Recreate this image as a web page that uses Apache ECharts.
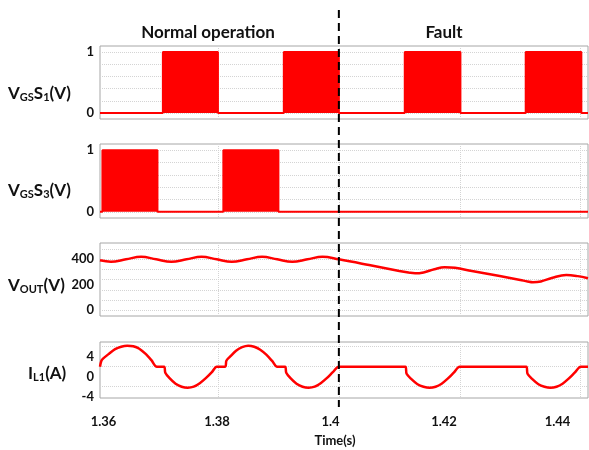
<!DOCTYPE html>
<html>
<head>
<meta charset="utf-8">
<script src="https://cdn.jsdelivr.net/npm/echarts@6/dist/echarts.min.js"></script>
<style>
html, body { margin: 0; padding: 0; background: #fff; }
#main { width: 589px; height: 450px; }
</style>
</head>
<body>
<div id="main"></div>
<script>
// time axis
var tMin = 1.3605, tMax = 1.4412, tFault = 1.4;
var timeTicks = [1.36, 1.38, 1.4, 1.42, 1.44];
var timeGrid = [1.38, 1.4, 1.42, 1.44];

// gate pulses (on / off edges, s)
var s1On = [1.3709, 1.3909, 1.4109, 1.4309];
var s1Off = [1.3800, 1.4000, 1.4201, 1.4401];
var s3On = [1.3609, 1.3809];
var s3Off = [1.3700, 1.3900];

// output voltage
var vTime = [1.3605, 1.3623, 1.3648, 1.3673, 1.3698, 1.3723, 1.3748, 1.3773, 1.3798, 1.3823,
  1.3848, 1.3873, 1.3898, 1.3923, 1.3948, 1.3973, 1.4000, 1.4050, 1.4100, 1.4115, 1.4126,
  1.4140, 1.4158, 1.4175, 1.4192, 1.4220, 1.4266, 1.4300, 1.4312, 1.4321, 1.4334, 1.4352,
  1.4376, 1.4395, 1.4412];
var vOut = [392, 381, 400, 420, 400, 381, 400, 420, 400, 381,
  400, 420, 400, 381, 400, 420, 400, 355, 308, 296, 290,
  297, 322, 337, 333, 308, 269, 238, 226, 220, 226, 253,
  277, 268, 251];

// inductor current
var iTime = [1.3605, 1.3607, 1.3610, 1.3620, 1.3630, 1.3640, 1.3650, 1.3660, 1.3670, 1.3680, 1.3690, 1.3699,
  1.3711, 1.3713, 1.3720, 1.3730, 1.3740, 1.3750, 1.3760, 1.3770, 1.3780, 1.3790, 1.3798,
  1.3812, 1.3814, 1.3820, 1.3830, 1.3840, 1.3850, 1.3860, 1.3870, 1.3880, 1.3890, 1.3898,
  1.3911, 1.3913, 1.3920, 1.3930, 1.3940, 1.3950, 1.3960, 1.3970, 1.3980, 1.3990, 1.4000,
  1.4110, 1.4112, 1.4120, 1.4130, 1.4140, 1.4150, 1.4160, 1.4170, 1.4180, 1.4190, 1.4200,
  1.4310, 1.4312, 1.4320, 1.4330, 1.4340, 1.4350, 1.4360, 1.4370, 1.4380, 1.4390, 1.4400, 1.4412];
var iL1 = [2.0, 3.1, 3.6, 4.6, 5.5, 6.0, 6.2, 6.1, 5.6, 4.6, 3.3, 2.0,
  2.0, 0.8, -0.3, -1.4, -2.0, -2.2, -2.0, -1.3, -0.3, 0.9, 2.0,
  2.0, 3.2, 4.0, 5.2, 5.9, 6.2, 6.0, 5.4, 4.4, 3.1, 2.0,
  2.0, 0.8, -0.3, -1.4, -2.0, -2.2, -2.0, -1.3, -0.3, 0.9, 2.0,
  2.0, 0.6, -0.5, -1.5, -2.0, -2.2, -2.0, -1.4, -0.4, 0.8, 2.0,
  2.0, 0.6, -0.5, -1.5, -2.0, -2.2, -2.0, -1.4, -0.4, 0.8, 2.0, 2.0];

var font = 'Lato';
var red = '#ff0000';
var gridColor = '#d4d4d4';

function pulses(on, off) {
  var pts = [[tMin, 0]];
  for (var i = 0; i < on.length; i++) {
    pts.push([on[i], 0], [on[i], 1], [off[i], 1], [off[i], 0]);
  }
  pts.push([tMax, 0]);
  return pts;
}
function zip(a, b) {
  return a.map(function (v, i) { return [v, b[i]]; });
}

var panels = [
  { top: 46, height: 73, min: -0.1, max: 1.1, grid: [0, 0.2, 0.4, 0.6, 0.8, 1], labels: [0, 1] },
  { top: 144, height: 74, min: -0.1, max: 1.1, grid: [0, 0.2, 0.4, 0.6, 0.8, 1], labels: [0, 1] },
  { top: 243, height: 73, min: -45, max: 528, grid: [0, 80, 160, 240, 320, 400, 480], labels: [0, 200, 400] },
  { top: 342, height: 56, min: -4.26, max: 6.94, grid: [-2, 2, 6], labels: [-4, 0, 4] }
];

var grids = [], xAxes = [], yAxes = [];
panels.forEach(function (p, k) {
  grids.push({ left: 100, width: 488, top: p.top, height: p.height, show: true,
    borderColor: '#a6a6a6', borderWidth: 1, backgroundColor: '#fff' });
  xAxes.push({ type: 'value', gridIndex: k, min: tMin, max: tMax,
    axisLine: { show: false }, axisLabel: { show: false },
    axisTick: { show: false, customValues: timeGrid },
    splitLine: { show: true, lineStyle: { color: gridColor, type: 'dotted' } } });
  yAxes.push({ type: 'value', gridIndex: k, min: p.min, max: p.max,
    axisLine: { show: false },
    axisTick: { show: false, customValues: p.grid },
    axisLabel: { customValues: p.labels, margin: 6, color: '#111',
      fontFamily: font, fontWeight: 'bold', fontSize: 13 },
    splitLine: { show: true, lineStyle: { color: gridColor, type: 'dotted' } } });
});
// label-only time axis
grids.push({ left: 103.5, width: 454, top: 397, height: 1 });
xAxes.push({ type: 'value', gridIndex: 4, min: 1.36, max: 1.44,
  axisLine: { show: false }, axisTick: { show: false, customValues: timeTicks }, splitLine: { show: false },
  axisLabel: { customValues: timeTicks, margin: 17, color: '#111', fontFamily: font, fontWeight: 'bold', fontSize: 13,
    formatter: function (v) { return String(+v.toFixed(2)); } } });
yAxes.push({ type: 'value', gridIndex: 4, show: false, min: 0, max: 1 });

var lineStyle = { color: red, width: 2.5 };
var series = [
  { type: 'line', xAxisIndex: 0, yAxisIndex: 0, data: pulses(s1On, s1Off), symbol: 'none',
    lineStyle: { color: red, width: 2 }, areaStyle: { color: red, opacity: 1 } },
  { type: 'line', xAxisIndex: 1, yAxisIndex: 1, data: pulses(s3On, s3Off), symbol: 'none',
    lineStyle: { color: red, width: 2 }, areaStyle: { color: red, opacity: 1 } },
  { type: 'line', xAxisIndex: 2, yAxisIndex: 2, data: zip(vTime, vOut), symbol: 'none',
    smooth: 0.4, lineStyle: lineStyle },
  { type: 'line', xAxisIndex: 3, yAxisIndex: 3, data: zip(iTime, iL1), symbol: 'none',
    smooth: 0.3, lineStyle: lineStyle }
];

var chart = echarts.init(document.getElementById('main'));
chart.setOption({
  animation: false,
  grid: grids,
  xAxis: xAxes,
  yAxis: yAxes,
  series: series
});

// dashed fault marker and titles
var xf = chart.convertToPixel({ xAxisIndex: 0 }, tFault);
var titleStyle = { fontFamily: font, fontWeight: 'bold', fontSize: 17, fill: '#111' };
var rich = {
  m: { fontFamily: font, fontWeight: 'bold', fontSize: 17, fill: '#111' },
  s: { fontFamily: font, fontWeight: 'bold', fontSize: 11, fill: '#111', padding: [7, 0, 0, 0] }
};
function label(txt, x, y) {
  return { type: 'text', x: x, y: y,
    style: { text: txt, rich: rich, verticalAlign: 'middle', fill: '#111' } };
}
chart.setOption({
  graphic: [
    { type: 'line', z: 100, shape: { x1: xf, y1: 10, x2: xf, y2: 407 },
      style: { stroke: '#000', lineWidth: 2, lineDash: [8, 5] } },
    { type: 'text', x: 208, y: 33, style: Object.assign({ text: 'Normal operation', align: 'center', verticalAlign: 'middle' }, titleStyle) },
    { type: 'text', x: 444, y: 33, style: Object.assign({ text: 'Fault', align: 'center', verticalAlign: 'middle' }, titleStyle) },
    { type: 'text', x: 335, y: 441, style: { text: 'Time(s)', align: 'center', verticalAlign: 'middle',
      fontFamily: font, fontWeight: 'bold', fontSize: 13, fill: '#111' } },
    label('{m|V}{s|GS}{m|S}{s|1}{m|(V)}', 8, 94),
    label('{m|V}{s|GS}{m|S}{s|3}{m|(V)}', 8, 191),
    label('{m|V}{s|OUT}{m|(V)}', 8, 286),
    label('{m|I}{s|L1}{m|(A)}', 28, 374)
  ]
});

window.onresize = function () {
  chart.resize();
};
</script>
</body>
</html>
